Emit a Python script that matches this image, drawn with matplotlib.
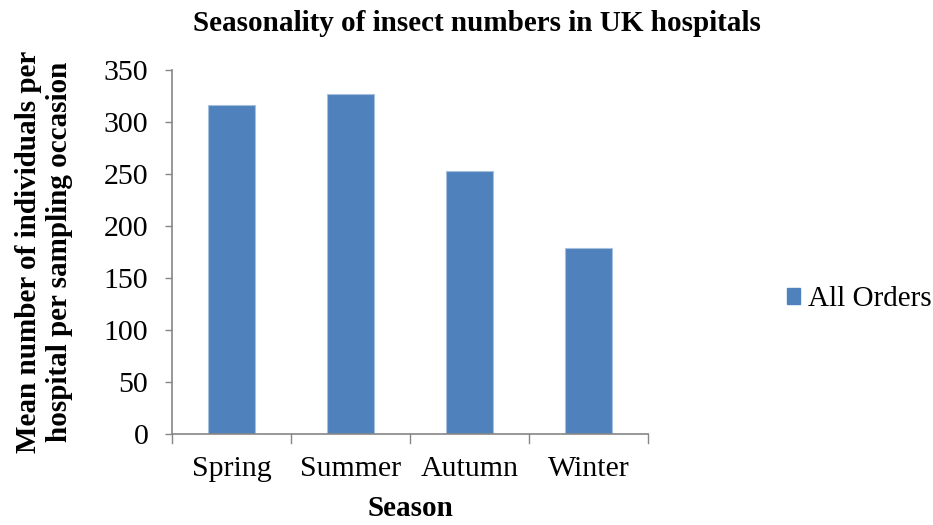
import matplotlib.pyplot as plt
from matplotlib.patches import Patch

seasons = ['Spring', 'Summer', 'Autumn', 'Winter']
mean_counts = [316, 327, 253, 179]
y_ticks = [0, 50, 100, 150, 200, 250, 300, 350]

plt.rcParams['font.family'] = ['Liberation Serif', 'DejaVu Serif']

bar_color = '#4F81BD'
axis_color = '#868686'

fig = plt.figure(figsize=(9.33, 5.25), dpi=100)
ax = fig.add_axes([0.1844, 0.1733, 0.5101, 0.6934])

x = list(range(len(seasons)))
ax.bar(x, mean_counts, width=0.4, color=bar_color, edgecolor='#A7C0DE', linewidth=0.8,
       label='All Orders')

ax.set_xlim(-0.5, len(seasons) - 0.5)
ax.set_ylim(0, 350)
ax.set_yticks(y_ticks)
ax.set_yticklabels([str(v) for v in y_ticks], fontsize=21.5)
ax.set_xticks(x)
ax.set_xticklabels(seasons, fontsize=21.5)
ax.tick_params(axis='x', length=0, pad=16)
ax.tick_params(axis='y', length=5, width=1, color=axis_color, pad=12)

# category separators on the x axis, Excel style
for b in [-0.5, 0.5, 1.5, 2.5, 3.5]:
    ax.plot([b, b], [0, -0.025], transform=ax.get_xaxis_transform(), color=axis_color,
            lw=1, clip_on=False)

for side in ['top', 'right']:
    ax.spines[side].set_visible(False)
for side in ['left', 'bottom']:
    ax.spines[side].set_color(axis_color)
    ax.spines[side].set_linewidth(1.2)

ax.set_xlabel('Season', fontsize=21, fontweight='bold', labelpad=9)
ax.set_ylabel('Mean number of individuals per\nhospital per sampling occasion',
              fontsize=21, fontweight='bold', labelpad=22)

fig.text(0.511, 0.955, 'Seasonality of insect numbers in UK hospitals', ha='center',
         va='center', fontsize=21, fontweight='bold')

handles = [Patch(facecolor=bar_color, edgecolor=bar_color)]
fig.legend(handles, ['All Orders'], loc='center left', bbox_to_anchor=(0.843, 0.43),
           frameon=False, fontsize=21, handlelength=0.45, handleheight=0.45,
           handletextpad=0.27, borderaxespad=0, borderpad=0)

fig.savefig('out.png', dpi=100)
